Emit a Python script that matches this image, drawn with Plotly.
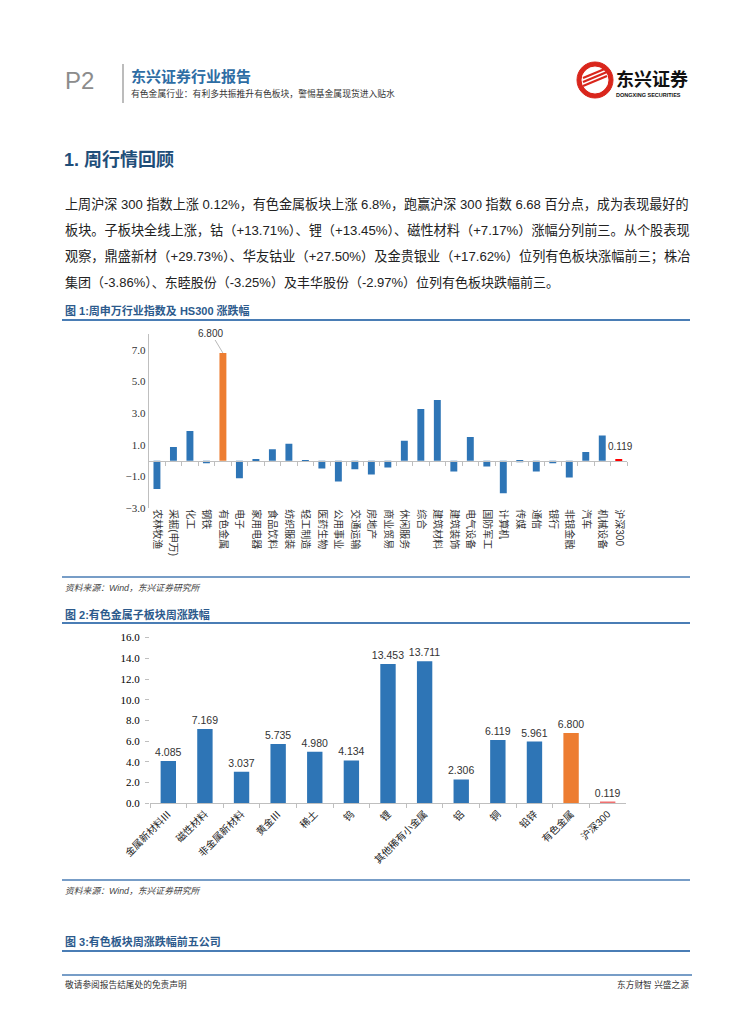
import plotly.graph_objects as go

# ---------------- data ----------------
cats1 = ["农林牧渔", "采掘(申万)", "化工", "钢铁", "有色金属", "电子", "家用电器", "食品饮料",
         "纺织服装", "轻工制造", "医药生物", "公用事业", "交通运输", "房地产", "商业贸易",
         "休闲服务", "综合", "建筑材料", "建筑装饰", "电气设备", "国防军工", "计算机", "传媒",
         "通信", "银行", "非银金融", "汽车", "机械设备", "沪深300"]
vals1 = [-1.78, 0.87, 1.88, -0.15, 6.800, -1.10, 0.10, 0.72, 1.08, 0.03, -0.49, -1.31, -0.53,
         -0.87, -0.42, 1.27, 3.26, 3.83, -0.68, 1.50, -0.36, -2.05, -0.10, -0.68, -0.15, -1.06,
         0.55, 1.59, 0.119]

cats2 = ["金属新材料Ⅲ", "磁性材料", "非金属新材料", "黄金Ⅲ", "稀土", "钨", "锂", "其他稀有小金属",
         "铝", "铜", "铅锌", "有色金属", "沪深300"]
vals2 = [4.085, 7.169, 3.037, 5.735, 4.980, 4.134, 13.453, 13.711, 2.306, 6.119, 5.961, 6.800, 0.119]

y1_range = [-3, 8]
y1_ticks = [-3, -1, 1, 3, 5, 7]
y2_range = [0, 16]
y2_ticks = [0, 2, 4, 6, 8, 10, 12, 14, 16]

highlight = "有色金属"
index_name = "沪深300"

# ---------------- styles ----------------
W, H = 755, 1024
OFF = 8  # page body margin
BLUE = "#2E75B6"
ORANGE = "#ED7D31"
RED1 = "#FF0000"
RED2 = "#F07070"
LINEBLUE = "#4A7DB5"
NAVY = "#1F4E79"
CJK = "Liberation Sans, Noto Sans CJK SC"
SERIF = "Liberation Serif, Noto Sans CJK SC"


def px(x):
    return (x - OFF) / W


def py(y):
    return 1 - (y - OFF) / H


def colors_for(cats, red):
    out = []
    for c in cats:
        if c == highlight:
            out.append(ORANGE)
        elif c == index_name:
            out.append(red)
        else:
            out.append(BLUE)
    return out


fig = go.Figure()

# chart 1
fig.add_trace(go.Bar(x=cats1, y=vals1, marker=dict(color=colors_for(cats1, RED1), line=dict(width=0)),
                     width=0.42, xaxis="x", yaxis="y", hoverinfo="x+y"))
# helper trace for zero-line category axis
fig.add_trace(go.Scatter(x=cats1, y=[0] * len(cats1), mode="markers", marker=dict(opacity=0),
                         xaxis="x3", yaxis="y", hoverinfo="skip", showlegend=False))
# chart 2
fig.add_trace(go.Bar(x=cats2, y=vals2, marker=dict(color=colors_for(cats2, RED2), line=dict(width=0)),
                     width=0.42, xaxis="x2", yaxis="y2",
                     texttemplate="%{y:.3f}", textposition="outside", cliponaxis=False,
                     constraintext="none",
                     textfont=dict(family="Liberation Sans", size=10.5, color="#333")))

# domains
c1_x = [px(148.7), px(627)]
c1_y = [py(508.3), py(334)]
c2_x = [px(150), px(626)]
c2_y = [py(803.3), py(637.6)]
zero_pos = c1_y[0] + (0 - y1_range[0]) / (y1_range[1] - y1_range[0]) * (c1_y[1] - c1_y[0])

fig.update_layout(
    width=W, height=H, margin=dict(l=0, r=0, t=0, b=0, pad=0, autoexpand=False),
    paper_bgcolor="white", plot_bgcolor="rgba(0,0,0,0)",
    showlegend=False,
    xaxis=dict(domain=c1_x, anchor="y", type="category", categoryorder="array", categoryarray=cats1,
               range=[-0.5, len(cats1) - 0.5], tickangle=90, showline=False, ticks="", automargin=False,
               tickfont=dict(family=CJK, size=10, color="#333"), showgrid=False, zeroline=False),
    xaxis3=dict(overlaying="x", anchor="free", position=zero_pos, type="category",
                categoryorder="array", categoryarray=cats1, range=[-0.5, len(cats1) - 0.5],
                showticklabels=False, showline=True, linecolor="#BFBFBF", linewidth=1, automargin=False,
                ticks="outside", ticklen=4, tickcolor="#BFBFBF", tickson="boundaries",
                showgrid=False, zeroline=False),
    yaxis=dict(domain=c1_y, anchor="x", range=y1_range, tickvals=y1_ticks, tickformat=".1f",
               showline=True, linecolor="#BFBFBF", linewidth=1, ticks="", showgrid=False, automargin=False,
               zeroline=False, tickfont=dict(family=SERIF, size=11, color="#333")),
    xaxis2=dict(domain=c2_x, anchor="y2", type="category", categoryorder="array", categoryarray=cats2,
                range=[-0.5, len(cats2) - 0.5], tickangle=-45, showline=True, linecolor="#BFBFBF",
                ticks="outside", ticklen=4, tickcolor="#BFBFBF", tickson="boundaries", automargin=False,
                tickfont=dict(family=CJK, size=10, color="#222"), showgrid=False, zeroline=False),
    yaxis2=dict(domain=c2_y, anchor="x2", range=y2_range, tickvals=y2_ticks, tickformat=".1f",
                showline=False, ticks="outside", ticklen=4, tickcolor="#BFBFBF", showgrid=False,
                automargin=False, zeroline=False, ticklabelstandoff=3,
                tickfont=dict(family=SERIF, size=11, color="#000")),
)

ann = []
shapes = []


def text(x, y, s, size, color="#222", anchor="left", bold=False, family=CJK, italic=False):
    if bold:
        s = "<b>" + s + "</b>"
    if italic:
        s = "<i>" + s + "</i>"
    ann.append(dict(x=px(x), y=py(y), xref="paper", yref="paper", text=s, showarrow=False,
                    xanchor=anchor, yanchor="middle", font=dict(size=size, color=color, family=family)))


def hline(x0, x1, y, color=LINEBLUE, width=2):
    shapes.append(dict(type="line", xref="paper", yref="paper", x0=px(x0), x1=px(x1), y0=py(y), y1=py(y),
                       line=dict(color=color, width=width)))


# header
text(63, 80, "P2", 24, color="#8C8C8C", family="Liberation Sans")
shapes.append(dict(type="line", xref="paper", yref="paper", x0=px(123), x1=px(123), y0=py(64), y1=py(103),
                   line=dict(color="#A6A6A6", width=1.5)))
text(129, 76, "东兴证券行业报告", 15, color="#2E6DA4", bold=True)
text(129, 93, "有色金属行业：有利多共振推升有色板块，警惕基金属现货进入贴水", 8.8, color="#333")
# logo
shapes.append(dict(type="circle", xref="paper", yref="paper", x0=px(577), x1=px(613), y0=py(98), y1=py(62),
                   fillcolor="#D9261C", line=dict(color="#D9261C", width=1)))
shapes.append(dict(type="circle", xref="paper", yref="paper", x0=px(582), x1=px(608), y0=py(93), y1=py(67),
                   fillcolor="white", line=dict(color="white", width=1)))
for k in range(3):
    shapes.append(dict(type="line", xref="paper", yref="paper", x0=px(583), x1=px(607),
                       y0=py(86 - k * 4), y1=py(76 - k * 4), line=dict(color="#D9261C", width=2.2)))
text(614, 79, "东兴证券", 18, color="#111", bold=True)
text(614, 95, "DONGXING SECURITIES", 5.5, color="#111", family="Liberation Sans", bold=True)

# section title + paragraph
text(62, 160, "1. 周行情回顾", 18, color=NAVY, bold=True)
para = [
    "上周沪深 300 指数上涨 0.12%，有色金属板块上涨 6.8%，跑赢沪深 300 指数 6.68 百分点，成为表现最好的",
    "板块。子板块全线上涨，钴（+13.71%）、锂（+13.45%）、磁性材料（+7.17%）涨幅分列前三。从个股表现",
    "观察，鼎盛新材（+29.73%）、华友钴业（+27.50%）及金贵银业（+17.62%）位列有色板块涨幅前三；株冶",
    "集团（-3.86%）、东睦股份（-3.25%）及丰华股份（-2.97%）位列有色板块跌幅前三。",
]
para_sizes = [13.1, 13.2, 13.2, 13.0]
for i, line in enumerate(para):
    text(63, 204 + i * 26.3, line, para_sizes[i], color="#222")

# figure 1 caption
text(63, 310, "图 1:周申万行业指数及 HS300 涨跌幅", 11, color="#2C5A8C", bold=True)
hline(62, 690, 320)
hline(62, 690, 577, width=1.5)
text(63, 588, "资料来源：Wind，东兴证券研究所", 8.8, color="#444", italic=True)

# figure 2 caption
text(63, 614, "图 2:有色金属子板块周涨跌幅", 11, color="#2C5A8C", bold=True)
hline(62, 690, 623)
hline(62, 690, 880, width=1.5)
text(63, 891, "资料来源：Wind，东兴证券研究所", 8.8, color="#444", italic=True)

# figure 3 caption
text(63, 941, "图 3:有色板块周涨跌幅前五公司", 11, color="#2C5A8C", bold=True)
hline(62, 690, 951)

# footer
hline(62, 692, 975, width=1.5)
text(63, 984, "敬请参阅报告结尾处的免责声明", 8.7, color="#333")
text(691, 984, "东方财智 兴盛之源", 8.7, color="#333", anchor="right")

# chart 1 data labels
ih = cats1.index(highlight)
ann.append(dict(x=cats1[ih], y=vals1[ih], xref="x", yref="y", text=f"{vals1[ih]:.3f}", showarrow=True,
                arrowhead=0, arrowwidth=0.6, arrowcolor="#888", ax=-12, ay=-20,
                font=dict(family="Liberation Sans", size=10, color="#333")))
ii = cats1.index(index_name)
ann.append(dict(x=cats1[ii], y=vals1[ii], xref="x", yref="y", text=f"{vals1[ii]:.3f}", showarrow=False,
                yshift=12, xshift=2, font=dict(family="Liberation Sans", size=10, color="#333")))

fig.update_layout(annotations=ann, shapes=shapes)

fig.write_html("out.html", config={"displayModeBar": False})
